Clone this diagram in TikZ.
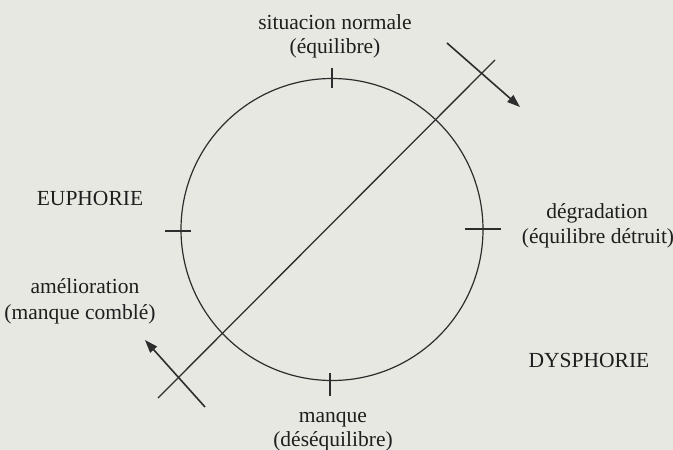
\documentclass[tikz,border=0pt]{standalone}
\usepackage{fontspec}
\setmainfont{Liberation Serif}
\usetikzlibrary{arrows.meta}
\definecolor{paper}{RGB}{232,232,226}
\definecolor{ink}{RGB}{45,45,45}
\definecolor{txt}{RGB}{30,30,30}
\begin{document}
\begin{tikzpicture}[x=1pt,y=-1pt,
  lbl/.style={anchor=base,inner sep=0pt,text=txt,font=\fontsize{21.5}{25}\selectfont},
  stroke/.style={draw=ink,line width=1.3pt},
  tickmark/.style={draw=ink,line width=1.3pt},
  arr/.style={draw=ink,line width=1.6pt,-{Triangle[length=13pt,width=9pt]}}]
\fill[paper] (0,0) rectangle (673,450);
\useasboundingbox (0,0) rectangle (673,450);
% circle
\node[circle,draw=ink,line width=1.2pt,minimum size=302pt,inner sep=0pt] (c) at (332,229.5) {};
% ticks
\draw[tickmark] (332,68) -- (332,88);
\draw[tickmark] (330,373) -- (330,396);
\draw[tickmark] (165,231) -- (191,231);
\draw[tickmark] (465,229) -- (501,229);
% diagonal
\coordinate (d1) at (158,398);
\coordinate (d2) at (495,60);
\draw[stroke] (d1) -- (d2);
% arrows
\coordinate (a1s) at (447,43);
\coordinate (a1e) at (520,107);
\draw[arr] (a1s) -- (a1e);
\coordinate (a2s) at (205,407);
\coordinate (a2e) at (145,340);
\draw[arr] (a2s) -- (a2e);
% labels
\node[lbl] (sn1) at (335,29) {situacion normale};
\node[lbl] (sn2) at (335,53) {(équilibre)};
\node[lbl] (eu) at (90,205) {EUPHORIE};
\node[lbl] (dg1) at (597,218) {dégradation};
\node[lbl] (dg2) at (598,243) {(équilibre détruit)};
\node[lbl] (am1) at (85,293) {amélioration};
\node[lbl] (am2) at (80,319) {(manque comblé)};
\node[lbl] (dy) at (589,367) {DYSPHORIE};
\node[lbl] (mq1) at (333,422) {manque};
\node[lbl] (mq2) at (333,446) {(déséquilibre)};
\end{tikzpicture}
\end{document}
